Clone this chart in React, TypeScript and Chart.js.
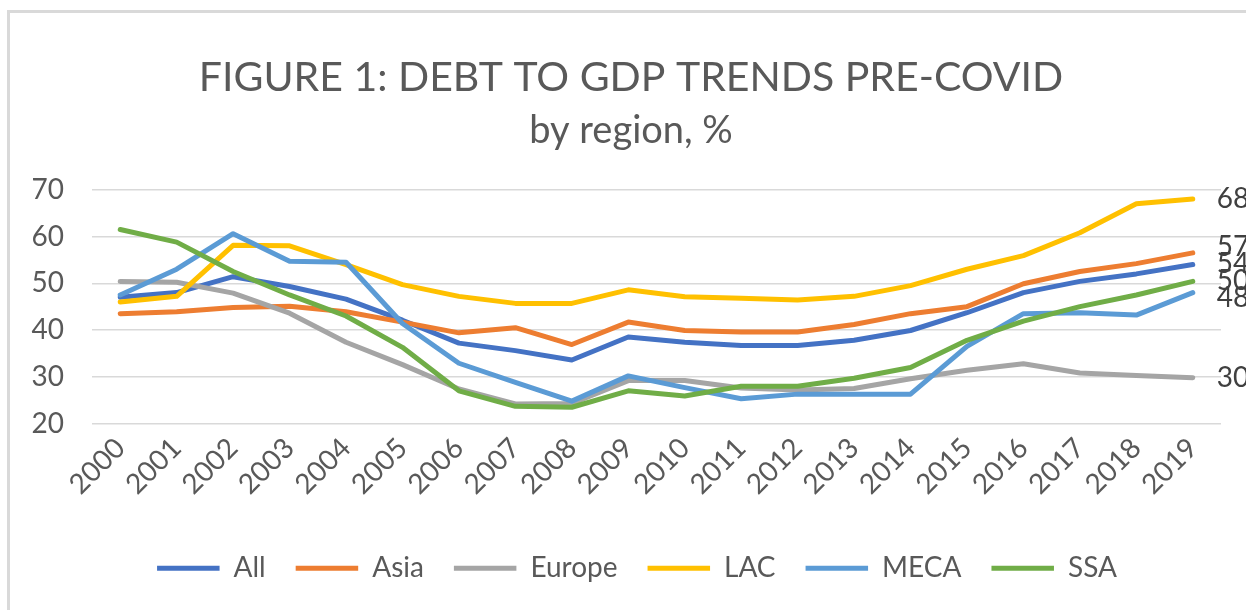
import React, { useEffect, useRef } from "react";
import { Chart, registerables } from "chart.js";

Chart.register(...registerables);

const years = ["2000","2001","2002","2003","2004","2005","2006","2007","2008","2009","2010","2011","2012","2013","2014","2015","2016","2017","2018","2019"];
const allValues = [47, 48, 51.4, 49.3, 46.6, 42.1, 37.2, 35.6, 33.6, 38.5, 37.4, 36.7, 36.7, 37.8, 39.9, 43.7, 48, 50.4, 52, 54];
const asiaValues = [43.5, 43.9, 44.8, 45.1, 43.9, 41.7, 39.4, 40.5, 36.9, 41.7, 39.9, 39.6, 39.6, 41.2, 43.5, 45, 49.9, 52.5, 54.2, 56.5];
const europeValues = [50.4, 50.2, 47.9, 43.6, 37.4, 32.6, 27.4, 24.2, 24.3, 29.2, 29.2, 27.6, 27.2, 27.5, 29.6, 31.4, 32.8, 30.8, 30.3, 29.8];
const lacValues = [46, 47.2, 58.1, 58, 54, 49.7, 47.2, 45.7, 45.7, 48.6, 47.1, 46.8, 46.4, 47.2, 49.5, 53, 55.9, 60.8, 67, 68];
const mecaValues = [47.5, 53, 60.6, 54.7, 54.5, 41.4, 32.9, 28.8, 24.8, 30.2, 27.7, 25.3, 26.3, 26.3, 26.3, 36.5, 43.5, 43.7, 43.2, 48];
const ssaValues = [61.5, 58.8, 52.5, 47.5, 43, 36.3, 27, 23.7, 23.5, 27, 25.9, 28, 28, 29.7, 32, 37.8, 41.9, 45, 47.5, 50.4];

const seriesNames = ["All", "Asia", "Europe", "LAC", "MECA", "SSA"];
const seriesValues = [allValues, asiaValues, europeValues, lacValues, mecaValues, ssaValues];
const seriesColors = ["#4472C4", "#ED7D31", "#A5A5A5", "#FFC000", "#5B9BD5", "#70AD47"];

const yTicks = [20, 30, 40, 50, 60, 70];

const FONT = "Lato";

const framePlugin = {
  id: "frame",
  beforeDraw(chart: any) {
    const { ctx, width, height } = chart;
    ctx.save();
    ctx.fillStyle = "#ffffff";
    ctx.fillRect(0, 0, width, height);
    ctx.fillStyle = "#d9d9d9";
    ctx.fillRect(7, 10, width - 7, 3);
    ctx.fillRect(7, 10, 3, height - 10);
    ctx.restore();
  },
};

// shift the full-width title / legend boxes so they are centred like the original
const shiftPlugin = {
  id: "shiftBoxes",
  afterLayout(chart: any) {
    chart.boxes.forEach((b: any) => {
      if (b.axis) return;
      const dx = b === chart.legend ? 16.5 : 10.5;
      b.left += dx;
      b.right += dx;
    });
  },
};

const endLabelPlugin = {
  id: "endLabels",
  afterDatasetsDraw(chart: any) {
    const { ctx } = chart;
    const items: { y: number; x: number; text: string }[] = [];
    chart.data.datasets.forEach((ds: any, i: number) => {
      const meta = chart.getDatasetMeta(i);
      if (!meta.visible) return;
      const last = meta.data[meta.data.length - 1];
      const v = ds.data[ds.data.length - 1];
      items.push({ x: last.x, y: last.y, text: String(Math.round(v)) });
    });
    items.sort((a, b) => a.y - b.y);
    const gap = 17;
    let groups: { items: typeof items }[] = items.map((it) => ({ items: [it] }));
    const pos = (g: any) => {
      const mean = g.items.reduce((s: number, it: any) => s + it.y, 0) / g.items.length;
      const start = mean - ((g.items.length - 1) * gap) / 2;
      return { start, end: start + (g.items.length - 1) * gap };
    };
    let merged = true;
    while (merged) {
      merged = false;
      for (let i = 0; i < groups.length - 1; i++) {
        const a = pos(groups[i]);
        const b = pos(groups[i + 1]);
        if (b.start - a.end < gap) {
          groups[i] = { items: groups[i].items.concat(groups[i + 1].items) };
          groups.splice(i + 1, 1);
          merged = true;
          break;
        }
      }
    }
    ctx.save();
    ctx.font = `28px ${FONT}`;
    ctx.fillStyle = "#404040";
    ctx.textAlign = "left";
    ctx.textBaseline = "middle";
    groups.forEach((g) => {
      const p = pos(g);
      g.items.forEach((it, k) => {
        ctx.fillText(it.text, it.x + 24, p.start + k * gap);
      });
    });
    ctx.restore();
  },
};

export default function App() {
  const canvasRef = useRef<HTMLCanvasElement | null>(null);

  useEffect(() => {
    const canvas = canvasRef.current;
    if (!canvas) return;
    Chart.defaults.font.family = FONT;
    Chart.defaults.color = "#595959";

    const chart = new Chart(canvas, {
      type: "line",
      data: {
        labels: years,
        datasets: seriesNames.map((name, i) => ({
          label: name,
          data: seriesValues[i],
          borderColor: seriesColors[i],
          backgroundColor: seriesColors[i],
          borderWidth: 5,
          borderCapStyle: "round",
          borderJoinStyle: "round",
          pointRadius: 0,
          pointHoverRadius: 0,
          tension: 0,
          fill: false,
          order: seriesNames.length - i,
        })),
      },
      options: {
        animation: false,
        responsive: false,
        maintainAspectRatio: false,
        layout: { padding: { left: 20, right: 25, top: 0, bottom: 17.7 } },
        plugins: {
          title: {
            display: true,
            text: "FIGURE 1: DEBT TO GDP TRENDS PRE-COVID",
            color: "#595959",
            font: { size: 41, weight: "normal", family: FONT },
            padding: { top: 53, bottom: 6 },
          },
          subtitle: {
            display: true,
            text: "by region, %",
            color: "#595959",
            font: { size: 38, weight: "normal", family: FONT },
            padding: { top: 0, bottom: 35.9 },
          },
          legend: {
            position: "bottom",
            labels: {
              usePointStyle: true,
              pointStyle: "line",
              pointStyleWidth: 62.5,
              padding: 30,
              color: "#595959",
              font: { size: 28, family: FONT },
              sort: (a: any, b: any) => a.datasetIndex - b.datasetIndex,
            },
          },
          tooltip: { enabled: false },
        },
        scales: {
          x: {
            offset: true,
            grid: { display: false },
            border: { display: false },
            ticks: {
              minRotation: 45,
              maxRotation: 45,
              autoSkip: false,
              padding: 0,
              color: "#595959",
              font: { size: 28, family: FONT },
            },
            afterFit(scale: any) {
              scale.height = 100.7;
            },
          },
          y: {
            min: 20,
            max: 70,
            grid: { color: "#d9d9d9", lineWidth: 1.5, drawTicks: false },
            border: { display: false },
            afterBuildTicks(scale: any) {
              scale.ticks = yTicks.map((v) => ({ value: v }));
            },
            ticks: {
              padding: 28,
              color: "#595959",
              font: { size: 28, family: FONT },
            },
            afterFit(scale: any) {
              scale.width = 72;
            },
          },
        },
      },
      plugins: [framePlugin, shiftPlugin, endLabelPlugin],
    } as any);

    return () => chart.destroy();
  }, []);

  return (
    <div style={{ position: "fixed", left: 0, top: 0, width: 1246, height: 610, overflow: "hidden", background: "#fff" }}>
      <canvas ref={canvasRef} width={1246} height={610} style={{ display: "block", width: 1246, height: 610 }} />
    </div>
  );
}
